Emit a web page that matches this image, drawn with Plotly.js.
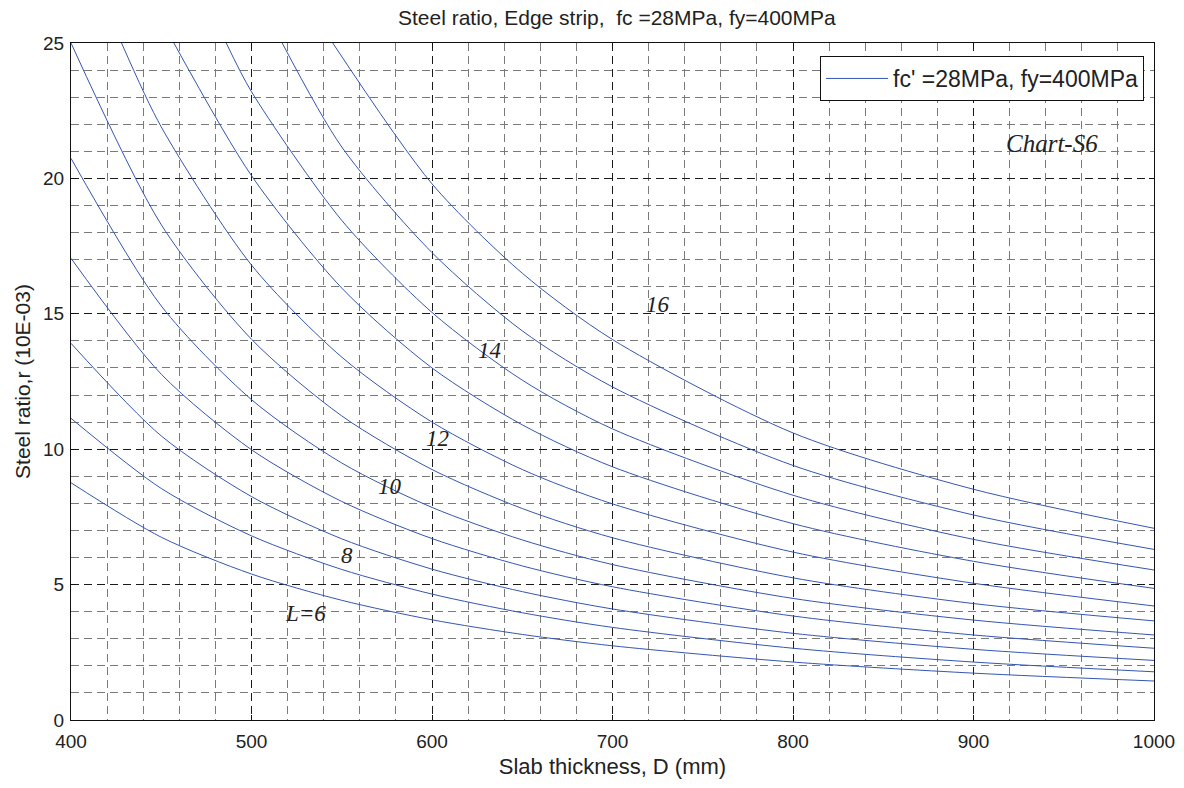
<!DOCTYPE html>
<html>
<head>
<meta charset="utf-8">
<script src="https://cdn.plot.ly/plotly-3.0.1.min.js"></script>
<style>
  html, body { margin: 0; padding: 0; background: #ffffff; }
  #chart { width: 1184px; height: 788px; }
</style>
</head>
<body>
<div id="chart"></div>
<script>
// Slab thickness D (mm) sample points for each span curve
const thicknessFull = [400, 450, 500, 550, 600, 650, 700, 800, 900, 1000];
const thicknessL12 = [428, 450, 500, 550, 600, 650, 700, 800, 900, 1000];
const thicknessL13 = [457, 500, 550, 600, 650, 700, 800, 900, 1000];
const thicknessL14 = [486, 500, 550, 600, 650, 700, 800, 900, 1000];
const thicknessL15 = [517, 550, 600, 650, 700, 800, 900, 1000];
const thicknessL16 = [545, 600, 650, 700, 800, 900, 1000];

// Steel ratio (10E-03), one array per span L (m)
const ratioL6  = [8.76, 6.75, 5.39, 4.42, 3.70, 3.16, 2.74, 2.14, 1.73, 1.44];
const ratioL7  = [11.14, 8.55, 6.80, 5.56, 4.65, 3.96, 3.42, 2.65, 2.14, 1.78];
const ratioL8  = [13.91, 10.49, 8.25, 6.69, 5.57, 4.74, 4.10, 3.20, 2.61, 2.20];
const ratioL9  = [17.05, 12.77, 9.98, 8.07, 6.70, 5.69, 4.92, 3.84, 3.14, 2.65];
const ratioL10 = [20.74, 15.29, 11.83, 9.49, 7.85, 6.65, 5.74, 4.49, 3.69, 3.14];
const ratioL11 = [25.0, 18.29, 14.06, 11.23, 9.25, 7.81, 6.73, 5.25, 4.30, 3.66];
const ratioL12 = [25.0, 21.90, 16.80, 13.40, 11.00, 9.25, 7.98, 6.20, 5.05, 4.21];
const ratioL13 = [25.0, 20.10, 15.95, 13.00, 10.90, 9.35, 7.25, 5.86, 4.86];
const ratioL14 = [25.0, 23.20, 18.45, 15.05, 12.55, 10.75, 8.30, 6.67, 5.54];
const ratioL15 = [25.0, 21.16, 17.26, 14.37, 12.30, 9.40, 7.57, 6.30];
const ratioL16 = [25.0, 19.80, 16.50, 14.05, 10.60, 8.52, 7.08];

// Curve labels and the (D, ratio) spot where each is written
const curveLabelText = ['L=6', '8', '10', '12', '14', '16'];
const curveLabelD = [530, 553, 577, 603, 632, 725];
const curveLabelR = [3.93, 6.09, 8.62, 10.40, 13.66, 15.36];

const seriesName = "fc' =28MPa, fy=400MPa";
const xTicks = [400, 500, 600, 700, 800, 900, 1000];
const yTicks = [0, 5, 10, 15, 20, 25];

const curves = [
  [thicknessFull, ratioL6], [thicknessFull, ratioL7], [thicknessFull, ratioL8],
  [thicknessFull, ratioL9], [thicknessFull, ratioL10], [thicknessFull, ratioL11],
  [thicknessL12, ratioL12], [thicknessL13, ratioL13], [thicknessL14, ratioL14],
  [thicknessL15, ratioL15], [thicknessL16, ratioL16]
];

const lineColor = '#3456b2';
const traces = curves.map((c, i) => ({
  x: c[0], y: c[1], type: 'scatter', mode: 'lines',
  name: seriesName, showlegend: i === 0,
  line: { color: lineColor, width: 1, shape: 'spline', smoothing: 0.8 },
  hoverinfo: 'x+y'
}));

const serif = 'Liberation Serif, Times New Roman, serif';
const annotations = curveLabelText.map((t, i) => ({
  x: curveLabelD[i], y: curveLabelR[i], xref: 'x', yref: 'y',
  text: '<i>' + t + '</i>', showarrow: false,
  font: { family: serif, size: 23, color: '#222' }
}));
annotations.push({
  x: 0.906, y: 0.852, xref: 'paper', yref: 'paper', xanchor: 'center', yanchor: 'middle',
  text: '<i>Chart-S6</i>', showarrow: false,
  font: { family: serif, size: 25, color: '#222' }
});

const gridDash = '8px,5px';
const layout = {
  width: 1184, height: 788,
  margin: { l: 71, r: 30, t: 43, b: 68 },
  paper_bgcolor: '#ffffff', plot_bgcolor: '#ffffff',
  font: { family: 'Liberation Sans, Arial, sans-serif', size: 19, color: '#222' },
  title: {
    text: 'Steel ratio, Edge strip,  fc =28MPa, fy=400MPa',
    x: 0.521, xanchor: 'center', y: 0.977, yanchor: 'middle',
    font: { size: 21, color: '#222' }
  },
  xaxis: {
    range: [400, 1000], tickvals: xTicks, ticktext: xTicks.map(String),
    showgrid: true, gridcolor: '#1a1a1a', griddash: gridDash, gridwidth: 1,
    minor: { dtick: 20, showgrid: true, gridcolor: '#7a7a7a', griddash: gridDash, gridwidth: 1 },
    showline: true, linecolor: '#111', linewidth: 1, mirror: 'ticks',
    ticks: 'inside', ticklen: 5, tickcolor: '#111',
    zeroline: false, tickfont: { size: 19 }, ticklabelstandoff: 4,
    title: { text: 'Slab thickness, D (mm)', font: { size: 22 }, standoff: 7 }
  },
  yaxis: {
    range: [0, 25], tickvals: yTicks, ticktext: yTicks.map(String),
    showgrid: true, gridcolor: '#1a1a1a', griddash: gridDash, gridwidth: 1,
    minor: { dtick: 1, showgrid: true, gridcolor: '#7a7a7a', griddash: gridDash, gridwidth: 1 },
    showline: true, linecolor: '#111', linewidth: 1, mirror: 'ticks',
    ticks: 'inside', ticklen: 5, tickcolor: '#111',
    zeroline: false, tickfont: { size: 19 }, ticklabelstandoff: 2,
    title: { text: 'Steel ratio,r (10E-03)', font: { size: 21 }, standoff: 6 }
  },
  legend: {
    x: 0.9908, y: 0.9808, xanchor: 'right', yanchor: 'top',
    bgcolor: '#ffffff', bordercolor: '#111', borderwidth: 1,
    font: { size: 23, color: '#222' }, itemwidth: 62
  },
  annotations: annotations,
  showlegend: true
};

Plotly.newPlot('chart', traces, layout, { displayModeBar: false, staticPlot: true });
</script>
</body>
</html>
